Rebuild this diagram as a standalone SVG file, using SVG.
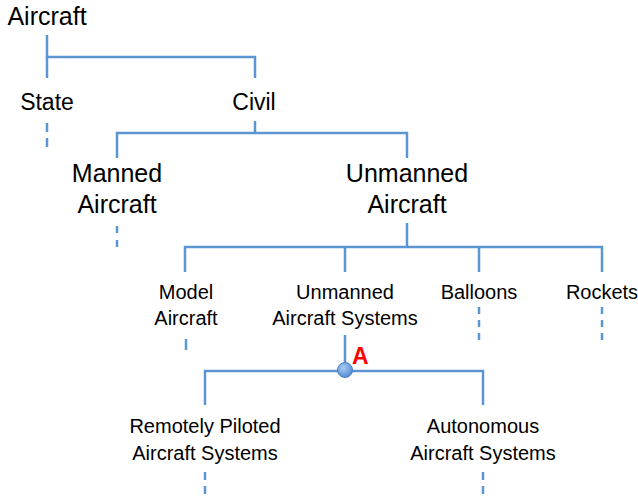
<svg xmlns="http://www.w3.org/2000/svg" width="638" height="501" viewBox="0 0 638 501">
<style>
text{font-family:"Liberation Sans",Arial,sans-serif;fill:#000;text-anchor:middle}
.l1{font-size:25px}
.l2{font-size:23px}
.l3{font-size:25px}
.l4{font-size:20px}
.c{stroke:#5b95d2;stroke-width:2.5;fill:none}
.d{stroke:#5b95d2;stroke-width:2.5;fill:none;stroke-dasharray:8 6}
.a{font-family:"Liberation Sans",Arial,sans-serif;font-weight:bold;font-size:23px;fill:#f00;text-anchor:start}
</style>
<defs>
<radialGradient id="dotg" cx="0.4" cy="0.35" r="0.7">
<stop offset="0" stop-color="#a9cbf2"/>
<stop offset="1" stop-color="#4f88d2"/>
</radialGradient>
</defs>
<rect width="638" height="501" fill="#fff"/>
<g id="connectors">
<polyline class="c" points="47,35 47,57 255,57 255,78"/>
<line class="c" x1="47" y1="57" x2="47" y2="78"/>
<polyline class="c" points="117,158 117,133 407,133 407,158"/>
<line class="c" x1="255" y1="121" x2="255" y2="133"/>
<polyline class="c" points="185,272 185,247 602,247 602,272"/>
<line class="c" x1="407" y1="223" x2="407" y2="247"/>
<line class="c" x1="345" y1="247" x2="345" y2="272"/>
<line class="c" x1="479" y1="247" x2="479" y2="272"/>
<line class="c" x1="345" y1="335" x2="345" y2="370"/>
<polyline class="c" points="205,405 205,371 483,371 483,405"/>
<line class="d" x1="47" y1="123" x2="47" y2="147" style="stroke-dasharray:9 6"/>
<line class="d" x1="117" y1="226" x2="117" y2="248" style="stroke-dasharray:7 7"/>
<line class="d" x1="186" y1="339" x2="186" y2="350" style="stroke-dasharray:11 5"/>
<line class="d" x1="479" y1="307" x2="479" y2="342" style="stroke-dasharray:7 6"/>
<line class="d" x1="602" y1="307" x2="602" y2="342" style="stroke-dasharray:7 6"/>
<line class="d" x1="205" y1="472" x2="205" y2="496" style="stroke-dasharray:8 6"/>
<line class="d" x1="483" y1="472" x2="483" y2="496" style="stroke-dasharray:8 6"/>
<circle cx="345" cy="370" r="7.5" fill="url(#dotg)" stroke="#4a7fc0" stroke-width="1"/>
<text class="a" x="352" y="364">A</text>
</g>
<g id="aircraft"><text class="l1" x="47" y="25">Aircraft</text></g>
<g id="state"><text class="l2" x="47" y="110">State</text></g>
<g id="civil"><text class="l2" x="254" y="110">Civil</text></g>
<g id="manned"><text class="l3" x="117" y="182">Manned</text><text class="l3" x="117" y="213">Aircraft</text></g>
<g id="unmanned"><text class="l3" x="407" y="182">Unmanned</text><text class="l3" x="407" y="213">Aircraft</text></g>
<g id="model"><text class="l4" x="186" y="299">Model</text><text class="l4" x="186" y="325">Aircraft</text></g>
<g id="uas"><text class="l4" x="345" y="299">Unmanned</text><text class="l4" x="345" y="325">Aircraft Systems</text></g>
<g id="balloons"><text class="l4" x="479" y="299">Balloons</text></g>
<g id="rockets"><text class="l4" x="602" y="299">Rockets</text></g>
<g id="rpas"><text class="l4" x="205" y="433">Remotely Piloted</text><text class="l4" x="205" y="460">Aircraft Systems</text></g>
<g id="autonomous"><text class="l4" x="483" y="433">Autonomous</text><text class="l4" x="483" y="460">Aircraft Systems</text></g>
</svg>
